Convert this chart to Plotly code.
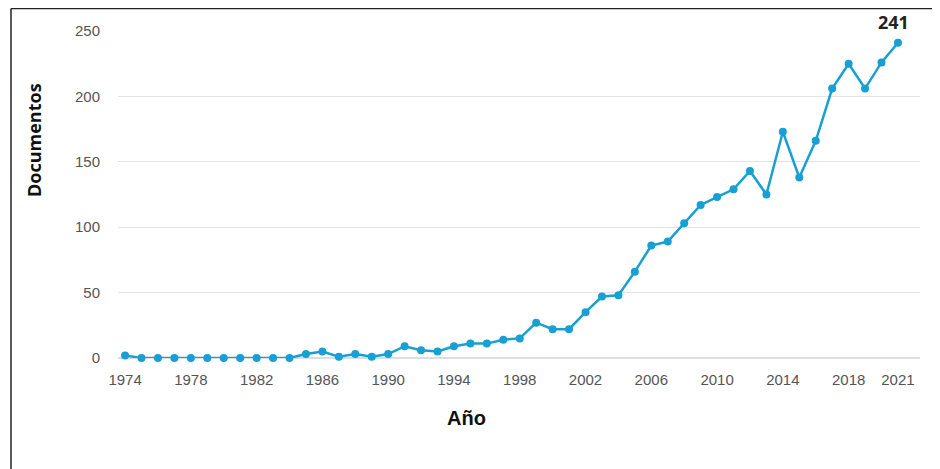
import plotly.graph_objects as go

years = list(range(1974, 2022))
documentos = [2, 0, 0, 0, 0, 0, 0, 0, 0, 0, 0, 3, 5, 1, 3, 1, 3, 9, 6, 5,
              9, 11, 11, 14, 15, 27, 22, 22, 35, 47, 48, 66, 86, 89, 103, 117,
              123, 129, 143, 125, 173, 138, 166, 206, 225, 206, 226, 241]
tick_years = [1974, 1978, 1982, 1986, 1990, 1994, 1998, 2002, 2006, 2010, 2014, 2018, 2021]
y_ticks = [0, 50, 100, 150, 200, 250]

OFF = 8  # page body margin
W, H = 940 - OFF, 469 - OFF
L, R, T, B = 118 - OFF, 20, 31 - OFF, 111
pw, ph = W - L - R, H - T - B

def px(x):  # viewport pixel -> paper
    return (x - OFF - L) / pw

def py(y):
    return (H - B - (y - OFF)) / ph

fig = go.Figure()
fig.add_trace(go.Scatter(
    x=years, y=documentos, mode="lines+markers",
    line=dict(color="#189fd3", width=2.5),
    marker=dict(color="#189fd3", size=8),
    cliponaxis=False, hoverinfo="x+y", showlegend=False,
))

fig.update_layout(
    width=W, height=H,
    margin=dict(l=L, r=R, t=T, b=B),
    paper_bgcolor="white", plot_bgcolor="white",
    font=dict(family="Liberation Sans, Arial, sans-serif", color="#555555", size=15),
    xaxis=dict(
        range=[1973.57, 2022.34], tickvals=tick_years,
        ticktext=[str(t) for t in tick_years],
        showgrid=False, zeroline=False, showline=False,
        ticks="outside", ticklen=8, tickcolor="rgba(0,0,0,0)",
        tickfont=dict(size=15, color="#555555"),
    ),
    yaxis=dict(
        range=[0, 250], tickvals=y_ticks,
        showgrid=True, gridcolor="#e4e4e4", gridwidth=1,
        zeroline=True, zerolinecolor="#d9dee5", zerolinewidth=1.5,
        showline=False,
        ticks="outside", ticklen=14, tickcolor="rgba(0,0,0,0)",
        tickfont=dict(size=15, color="#555555"),
    ),
    annotations=[
        dict(text="<b>Documentos</b>", xref="paper", yref="paper",
             x=px(34), y=py(140), textangle=-90, showarrow=False,
             font=dict(size=18, color="#111111", family="Open Sans, sans-serif"),
             xanchor="center", yanchor="middle"),
        dict(text="<b>Año</b>", xref="paper", yref="paper",
             x=px(466), y=py(418), showarrow=False,
             font=dict(size=20, color="#111111", family="Liberation Sans, Arial, sans-serif"),
             xanchor="center", yanchor="middle"),
        dict(text="<b>241</b>", xref="paper", yref="paper",
             x=px(893), y=py(9), showarrow=False,
             font=dict(size=18, color="#222222", family="Open Sans, sans-serif"),
             xanchor="center", yanchor="top", borderpad=0),
    ],
    shapes=[
        dict(type="line", xref="paper", yref="paper",
             x0=px(11), x1=px(11), y0=py(8.5), y1=py(480),
             line=dict(color="#222222", width=1.5)),
        dict(type="line", xref="paper", yref="paper",
             x0=px(11), x1=px(950), y0=py(8.5), y1=py(8.5),
             line=dict(color="#222222", width=1.5)),
    ],
)

fig.write_html("out.html")
